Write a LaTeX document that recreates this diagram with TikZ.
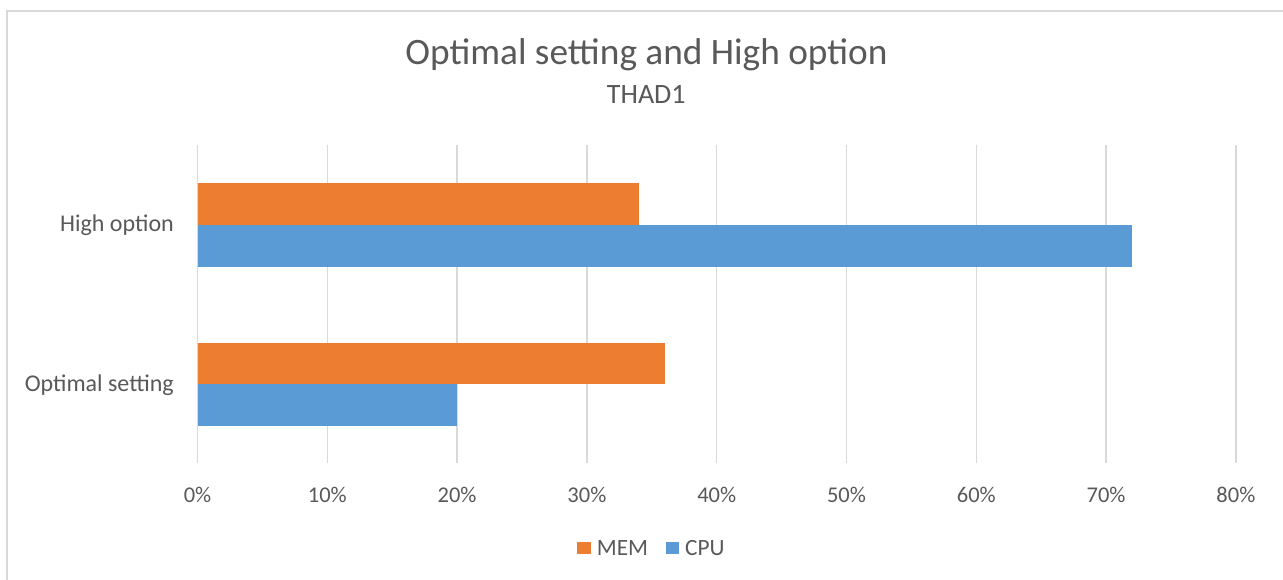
\documentclass[tikz,border=0pt]{standalone}
\usepackage{fontspec}
\setmainfont{Carlito}
\definecolor{memc}{HTML}{ED7D31}
\definecolor{cpuc}{HTML}{5B9BD5}
\definecolor{gridc}{HTML}{D9D9D9}
\definecolor{txtc}{HTML}{595959}
\begin{document}
\begin{tikzpicture}[x=1pt,y=-1pt,
  lbl/.style={inner sep=0pt, text=txtc, font=\fontsize{22.5}{27}\selectfont},
  catlbl/.style={lbl, font=\fontsize{24}{29}\selectfont},
  gridline/.style={draw=gridc, line width=1.3pt},
  membar/.style={fill=memc},
  cpubar/.style={fill=cpuc}]
\useasboundingbox[fill=white] (0,0) rectangle (1283,580);
% frame
\draw[draw=gridc, line width=1.5pt] (7,580) -- (7,11) -- (1283,11);
% title
\node[inner sep=0pt, anchor=base, text=txtc, font=\fontsize{37.3}{44}\selectfont] (title) at (646.5,65) {Optimal setting and High option};
\node[inner sep=0pt, anchor=base, text=txtc, font=\fontsize{28}{33}\selectfont] (subtitle) at (646.3,103.3) {THAD1};
% gridlines and tick labels
\foreach \k in {0,...,8} {
  \draw[gridline] ({197.5+129.8*\k},145) -- ({197.5+129.8*\k},463);
  \pgfmathtruncatemacro{\pc}{10*\k}
  \node[lbl, anchor=base] (tick\k) at ({197.5+129.8*\k},502.7) {\pc\%};
}
% bars
\fill[membar] (197.5,183.3) rectangle (638.8,225);
\fill[cpubar] (197.5,225) rectangle (1132.1,266.7);
\fill[membar] (197.5,342.5) rectangle (664.8,384);
\fill[cpubar] (197.5,384) rectangle (457.1,425.7);
% category labels
\node[catlbl, anchor=base east] (cathigh) at (174,231.7) {High option};
\node[catlbl, anchor=base east] (catopt) at (174,391.7) {Optimal setting};
% legend
\fill[membar] (577.3,541.7) rectangle (590.7,554.3);
\node[lbl, font=\fontsize{23.3}{28}\selectfont, anchor=base west] (legmem) at (596.7,555) {MEM};
\fill[cpubar] (666,541.7) rectangle (679.3,554.3);
\node[lbl, font=\fontsize{23.3}{28}\selectfont, anchor=base west] (legcpu) at (685,555) {CPU};
\end{tikzpicture}
\end{document}
